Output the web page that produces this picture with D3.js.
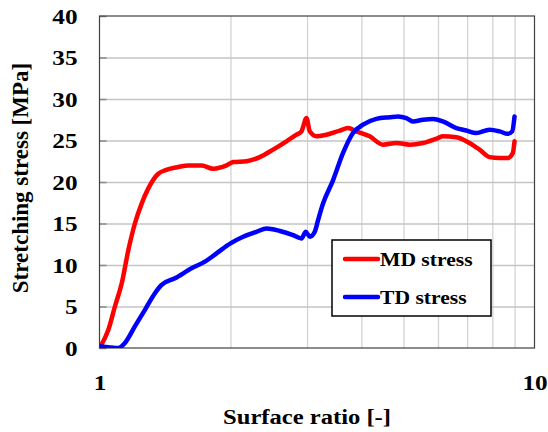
<!DOCTYPE html>
<html>
<head>
<meta charset="utf-8">
<script src="https://cdn.jsdelivr.net/npm/d3@7"></script>
<style>
  html, body { margin: 0; padding: 0; background: #fff; }
  svg { display: block; }
  text { font-family: "Liberation Serif", "Times New Roman", serif; font-weight: bold; fill: #000; }
</style>
</head>
<body>
<svg id="chart" width="548" height="432"></svg>
<script>
// ---- data ----
const mdRatio  = [1.00, 1.048, 1.085, 1.125, 1.165, 1.206, 1.250, 1.294, 1.365, 1.414, 1.517, 1.599, 1.717, 1.825, 1.959, 2.029, 2.178, 2.336, 2.506, 2.690, 2.837, 2.913, 2.991, 3.044, 3.153, 3.324, 3.567, 3.727, 3.896, 4.180, 4.484, 4.814, 5.164, 5.540, 5.998, 6.158, 6.611, 7.090, 7.475, 7.881, 8.310, 8.683, 8.916, 8.997];
const mdStress = [0.0, 2.2, 5.0, 7.8, 11.8, 15.0, 17.4, 19.2, 21.0, 21.4, 21.8, 22.0, 22.0, 21.6, 22.0, 22.4, 22.5, 23.0, 23.9, 24.9, 25.7, 26.1, 27.7, 26.1, 25.5, 25.7, 26.2, 26.5, 26.1, 25.5, 24.5, 24.7, 24.5, 24.7, 25.3, 25.5, 25.4, 24.7, 23.9, 23.0, 22.9, 22.9, 23.5, 24.9];
const tdRatio  = [1.00, 1.048, 1.105, 1.144, 1.206, 1.272, 1.341, 1.389, 1.491, 1.628, 1.747, 1.858, 2.000, 2.139, 2.296, 2.421, 2.597, 2.786, 2.913, 2.980, 3.044, 3.125, 3.180, 3.265, 3.442, 3.630, 3.826, 4.034, 4.330, 4.645, 4.854, 5.075, 5.255, 5.540, 5.841, 6.158, 6.611, 6.968, 7.346, 7.881, 8.310, 8.683, 8.887, 8.997];
const tdStress = [0.2, 0.1, 0.0, 0.6, 2.6, 4.6, 6.6, 7.6, 8.4, 9.6, 10.4, 11.4, 12.6, 13.4, 14.0, 14.4, 14.1, 13.6, 13.2, 14.0, 13.4, 14.0, 15.4, 17.4, 20.2, 23.5, 25.9, 26.9, 27.6, 27.8, 27.9, 27.7, 27.3, 27.5, 27.6, 27.3, 26.5, 26.2, 25.9, 26.3, 26.1, 25.8, 26.1, 27.9];
const seriesNames  = ["MD stress", "TD stress"];
const seriesColors = ["#ff0000", "#0000ff"];
const yTicks = [0, 5, 10, 15, 20, 25, 30, 35, 40];
const xTickLabels = [1, 10];
const xGrid = [2, 3, 4, 5, 6, 7, 8, 9];
const xTitle = "Surface ratio [-]";
const yTitle = "Stretching stress [MPa]";

// ---- layout ----
const L = 99.5, R = 534.5, T = 16, B = 348;
const svg = d3.select("#chart");
const x = d3.scaleLog().domain([1, 10]).range([L, R]);
const y = d3.scaleLinear().domain([0, 40]).range([B, T]);

// vertical grid
svg.append("g").attr("transform", `translate(0,${B})`)
  .call(d3.axisBottom(x).tickValues(xGrid).tickSize(-(B - T)).tickFormat(""))
  .call(g => g.select(".domain").remove())
  .call(g => g.selectAll("line").attr("stroke", "#d3d3d3").attr("stroke-width", 1.3));

// horizontal grid
svg.append("g").attr("transform", `translate(${L},0)`)
  .call(d3.axisLeft(y).tickValues(yTicks.filter(v => v > 0 && v < 40)).tickSize(-(R - L)).tickFormat(""))
  .call(g => g.select(".domain").remove())
  .call(g => g.selectAll("line").attr("stroke", "#c4c4c4").attr("stroke-width", 1.5));

// y axis ticks + labels
svg.append("g").attr("transform", `translate(${L},0)`)
  .call(d3.axisLeft(y).tickValues(yTicks).tickSize(-7).tickPadding(22))
  .call(g => g.select(".domain").remove())
  .call(g => g.selectAll("line").attr("stroke", "#8a8a8a").attr("stroke-width", 1.5))
  .call(g => g.selectAll("text")
    .style("font-size", "21px")
    .attr("dy", "0.34em")
    .attr("textLength", d => String(d).length * 12.6)
    .attr("lengthAdjust", "spacingAndGlyphs"));

// x axis labels
svg.append("g").attr("transform", `translate(0,${B})`)
  .call(d3.axisBottom(x).tickValues(xTickLabels).tickSize(0).tickPadding(27).tickFormat(d3.format("d")))
  .call(g => g.select(".domain").remove())
  .call(g => g.selectAll("text")
    .style("font-size", "21px")
    .attr("textLength", d => String(d).length * 12.6)
    .attr("lengthAdjust", "spacingAndGlyphs"));

// frame
svg.append("rect").attr("x", L).attr("y", T).attr("width", R - L).attr("height", B - T)
  .attr("fill", "none").attr("stroke", "#404040").attr("stroke-width", 1.2);

// clip
svg.append("clipPath").attr("id", "clip").append("rect")
  .attr("x", L).attr("y", T - 5).attr("width", R - L).attr("height", B - T + 5);

const line = d3.line().x(d => x(d[0])).y(d => y(d[1])).curve(d3.curveMonotoneX);
const series = [d3.zip(mdRatio, mdStress), d3.zip(tdRatio, tdStress)];
svg.append("g").attr("clip-path", "url(#clip)")
  .selectAll("path").data(series).join("path")
  .attr("d", line).attr("fill", "none")
  .attr("stroke", (d, i) => seriesColors[i])
  .attr("stroke-width", 4.5).attr("stroke-linejoin", "round").attr("stroke-linecap", "round");

// legend
const lg = svg.append("g");
lg.append("rect").attr("x", 332).attr("y", 240).attr("width", 159).attr("height", 76)
  .attr("fill", "#fff").attr("stroke", "#000").attr("stroke-width", 1.5);
const ly = [259, 297];
seriesNames.forEach((name, i) => {
  lg.append("line").attr("x1", 345).attr("x2", 378).attr("y1", ly[i]).attr("y2", ly[i])
    .attr("stroke", seriesColors[i]).attr("stroke-width", 4.5).attr("stroke-linecap", "round");
  lg.append("text").attr("transform", `translate(380,${ly[i] + 7}) scale(1.2,1)`)
    .style("font-size", "18px").text(name);
});

// axis titles
svg.append("text").attr("transform", `translate(307,424) scale(1.2,1)`)
  .attr("text-anchor", "middle").style("font-size", "20.5px").text(xTitle);
svg.append("text").attr("transform", `translate(28,178) rotate(-90)`)
  .attr("text-anchor", "middle").style("font-size", "23px").text(yTitle);
</script>
</body>
</html>
